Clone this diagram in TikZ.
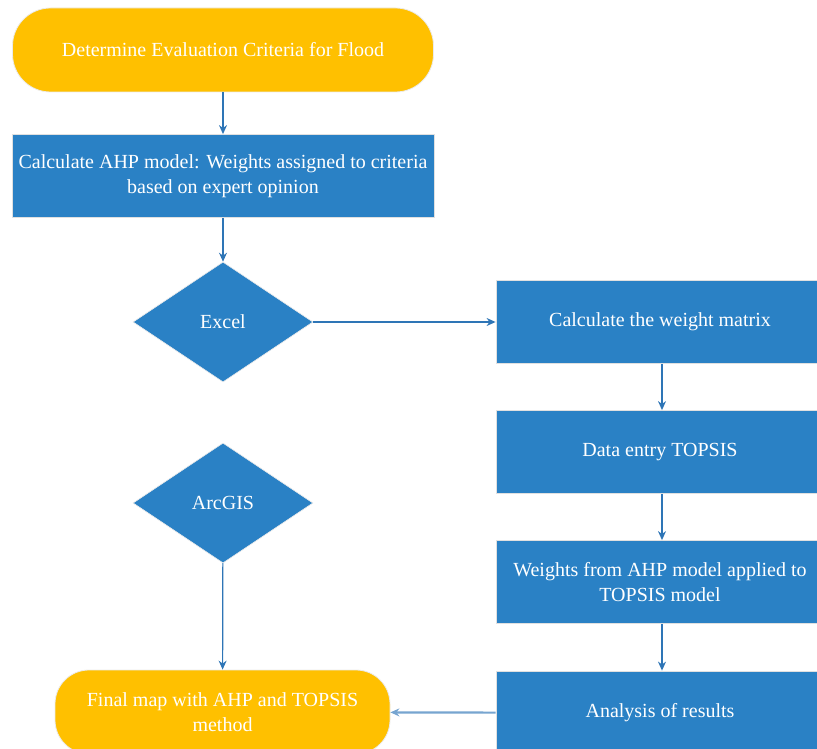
\documentclass[tikz,border=0pt]{standalone}
\usepackage{fontspec}
\setmainfont{Liberation Serif}
\usetikzlibrary{shapes.geometric,arrows.meta}
\definecolor{floodblue}{HTML}{2A81C5}
\definecolor{floodgold}{HTML}{FFC000}
\definecolor{arrowblue}{HTML}{2E75B6}
\tikzset{
	flowtext/.style={text=white, align=center, font=\fontsize{20}{24.5}\selectfont, inner sep=2pt},
	stepbox/.style={flowtext, rectangle, fill=floodblue, draw=black!12, line width=0.8pt, minimum width=328pt, minimum height=83pt},
	endbox/.style={flowtext, rectangle, rounded corners=38pt, fill=floodgold, draw=black!8, line width=0.8pt, minimum height=84pt},
	choice/.style={flowtext, diamond, fill=floodblue, draw=black!8, line width=0.6pt, minimum width=180pt, minimum height=120pt, inner sep=0pt},
	flowarrow/.style={draw=arrowblue, line width=1.2pt, -{Stealth[length=9pt,width=8pt]}}
}
\begin{document}
\begin{tikzpicture}[x=1pt,y=-1pt]
		\useasboundingbox (0,0) rectangle (817,749);
		\clip (0,0) rectangle (817,749);
		\node[endbox, minimum width=421pt] (start) at (223,50) {Determine Evaluation Criteria for Flood};
		\node[stepbox, minimum width=422pt] (ahp) at (223,176) {Calculate AHP model: Weights assigned to criteria\\based on expert opinion};
		\node[choice] (excel) at (223,322) {Excel};
		\node[stepbox] (matrix) at (660,322) {Calculate the weight matrix};
		\node[stepbox] (entry) at (660,452) {Data entry TOPSIS};
		\node[stepbox] (applied) at (660,582) {Weights from AHP model applied to\\TOPSIS model};
		\node[stepbox, minimum height=84pt] (analysis) at (660,713) {Analysis of results};
		\node[choice] (arcgis) at (223,503) {ArcGIS};
		\node[endbox, minimum width=335pt, rounded corners=34pt] (final) at (222.5,712) {Final map with AHP and TOPSIS\\method};
		\draw[flowarrow] (start) -- (ahp);
		\draw[flowarrow] (ahp) -- (excel);
		\draw[flowarrow] (excel) -- (matrix);
		\draw[flowarrow] (matrix.south -| 662,0) -- (entry.north -| 662,0);
		\draw[flowarrow] (entry.south -| 662,0) -- (applied.north -| 662,0);
		\draw[flowarrow] (applied.south -| 662,0) -- (analysis.north -| 662,0);
		\draw[flowarrow] (arcgis) -- (final);
		\draw[flowarrow, draw=arrowblue!65, line width=2.2pt] (analysis) -- (final);
	\end{tikzpicture}
\end{document}
